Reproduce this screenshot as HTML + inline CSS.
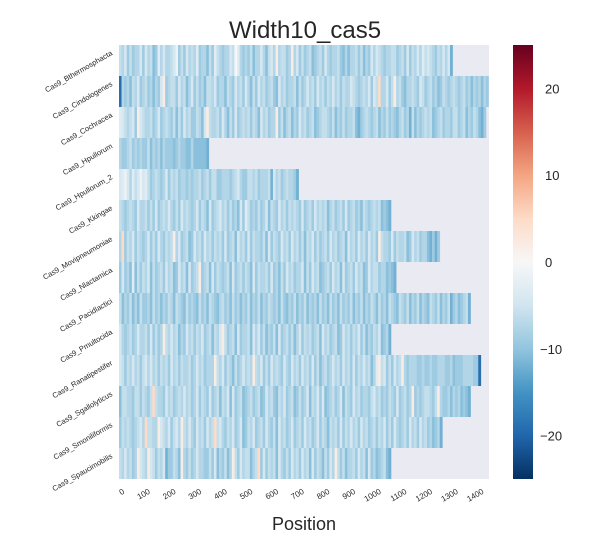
<!DOCTYPE html>
<html><head><meta charset="utf-8"><style>
body{margin:0;background:#fff;}
svg{display:block;font-family:"Liberation Sans",sans-serif;}
</style></head><body>
<svg id="chart" width="600" height="550">
<defs><linearGradient id="cb" x1="0" y1="1" x2="0" y2="0">
<stop offset="0" stop-color="#053061"/><stop offset="0.1" stop-color="#2166ac"/><stop offset="0.2" stop-color="#4393c3"/><stop offset="0.3" stop-color="#92c5de"/><stop offset="0.4" stop-color="#d1e5f0"/><stop offset="0.5" stop-color="#f7f7f7"/><stop offset="0.6" stop-color="#fddbc7"/><stop offset="0.7" stop-color="#f4a582"/><stop offset="0.8" stop-color="#d6604d"/><stop offset="0.9" stop-color="#b2182b"/><stop offset="1" stop-color="#67001f"/></linearGradient></defs>
<text x="305" y="38" text-anchor="middle" font-size="24" fill="#262626">Width10_cas5</text>
<text x="304" y="530" text-anchor="middle" font-size="18" fill="#262626">Position</text>
<rect x="119" y="45" width="370" height="434" fill="#eaeaf2"/>
<g id="cells"></g><g id="ylabels"></g><g id="xticks"></g>
<rect x="513" y="45" width="20" height="434" fill="url(#cb)"/>
<g id="cbticks"></g>
</svg>
<script>
const rowNames=["Cas9_Bthermosphacta","Cas9_Cindologenes","Cas9_Cochracea","Cas9_Hpullorum","Cas9_Hpullorum_2","Cas9_Kkingae","Cas9_Movipneumoniae","Cas9_Nlactamica","Cas9_Pacidlactici","Cas9_Pmultocida","Cas9_Ranatipestifer","Cas9_Sgallolyticus","Cas9_Smoniliformis","Cas9_Spaucimobilis"];
const rowValues=[
"4536465536 3547625355 4316463545 2655746245 6553402565 6475535743 5a54465a53 6465476546 3565546757 5546475635 3456554465 4636453524 3456453538",
"x565745365 4657563a65 4463547536 4657445365 5745635463 5746354654 6735465547 4653546354 6453546455 3456545363 4b55364a54 6755456346 5465764565 4565465756 5756",
"2345436a34 5546536545 6474635466 4573a45546 3574636545 4645735465 5a64754756 3546547654 4564756465 5478654565 4756465675 4658475654 5476546556 4465475645 786",
"5665465656 6475657566 6765667757 77778",
"3213524313 2465456536 4546556565 5465464466 5556543566 4454655548 3546545568",
"4565456355 4646365453 5646354565 3645736543 5464657362 4656465374 5635464545 6365463545 4754654636 5465745654 547678",
"5b64536456 5364635645 4a53654763 5463546454 6365473546 3645564736 4563546354 6474536465 4635465473 5463546354 6a45563645 5476354655 78686",
"6365727464 5374654635 4763547365 4a65473645 6547365464 5736455463 6574635465 5374635476 5463547365 4635476354 46557678",
"4756475746 6574657564 5745674656 7465745675 4657465756 4756475645 6574675647 5647565746 5746574656 4756475645 7465745674 5647564756 7456475648 6576548",
"3565465355 4636465a45 3547563546 4536547453 a465473655 4735364756 4736546475 3645465473 5465476354 6453647564 537658",
"3464535464 3535464546 3546455465 3546555a45 3645746535 45a4536463 5456356354 6354636475 4653546354 6364535475 2a43646354 a565556656 6566555665 7666555566 x",
"7445564464 564b455635 4654535465 3645636547 4537365476 5465476354 6745365476 4653745363 7654653745 6354655643 5465645636 5465a65654 4564a56657 5657678",
"6454565435 b4455a3453 6435a45356 3546354b43 5645365376 4536546356 4735465365 4635465364 5745463645 3546354654 6453646356 5463546354 657658",
"4535465a34 5a34645386 6457a56465 3556646375 6475a46354 4754b63645 4735646354 6354736457 4635a46475 5463547365 765478"
];
const xTicks=[0,100,200,300,400,500,600,700,800,900,1000,1100,1200,1300,1400];
const cbTicks=[20,10,0,-10,-20];
const binWidth=10;
const X0=119,XPX=0.2566,Y0=45,RH=31;
function xs(v){return X0+v*XPX;}
function cbY(v){return 262-v*8.68;}
function charVal(c){if(c==='a')return 2;if(c==='b')return 5;if(c==='x')return -19;return -1.5*parseInt(c,10);}
const stops=[[-25,[5,48,97]],[-20,[33,102,172]],[-15,[67,147,195]],[-10,[146,197,222]],[-5,[209,229,240]],[0,[247,247,247]],[5,[253,219,199]],[10,[244,165,130]],[15,[214,96,77]],[20,[178,24,43]],[25,[103,0,31]]];
function color(v){v=Math.max(-25,Math.min(25,v));for(let i=0;i<stops.length-1;i++){const a=stops[i],b=stops[i+1];if(v<=b[0]){const t=(v-a[0])/(b[0]-a[0]);const c=a[1].map((x,k)=>Math.round(x+(b[1][k]-x)*t));return `rgb(${c[0]},${c[1]},${c[2]})`;}}return 'rgb(103,0,31)';}
const NS="http://www.w3.org/2000/svg";
const cells=document.getElementById('cells');
rowValues.forEach((s,r)=>{
 const vals=s.replace(/ /g,'').split('').map(charVal);
 vals.forEach((v,i)=>{
  const el=document.createElementNS(NS,'rect');
  el.setAttribute('x',xs(i*binWidth));el.setAttribute('y',Y0+r*RH);
  el.setAttribute('width',binWidth*XPX+0.3);el.setAttribute('height',RH);
  el.setAttribute('fill',color(v));
  
  
  cells.appendChild(el);
 });
});
const yl=document.getElementById('ylabels');
rowNames.forEach((n,r)=>{
 const t=document.createElementNS(NS,'text');
 const y=Y0+r*RH+RH/2-6;
 t.setAttribute('x',113);t.setAttribute('y',y);t.setAttribute('text-anchor','end');
 t.setAttribute('font-size','7.5');t.setAttribute('fill','#262626');
 t.setAttribute('transform',`rotate(-30 113 ${y})`);
 t.textContent=n;
 
 
 yl.appendChild(t);
});
const xt=document.getElementById('xticks');
xTicks.forEach(v=>{
 const t=document.createElementNS(NS,'text');
 const x=xs(v)+6,y=493;
 t.setAttribute('x',x);t.setAttribute('y',y);t.setAttribute('text-anchor','end');
 t.setAttribute('font-size','8');t.setAttribute('fill','#262626');
 t.setAttribute('transform',`rotate(-30 ${x} ${y})`);
 t.textContent=v;
 
 
 xt.appendChild(t);
});
const cb=document.getElementById('cbticks');
cbTicks.forEach(v=>{
 const t=document.createElementNS(NS,'text');
 t.setAttribute('x',v<0?540:545);t.setAttribute('y',cbY(v)+5);
 t.setAttribute('font-size','13');t.setAttribute('fill','#262626');
 t.textContent=v<0?'\u2212'+Math.abs(v):v;
 
 
 cb.appendChild(t);
});
</script>
</body></html>
